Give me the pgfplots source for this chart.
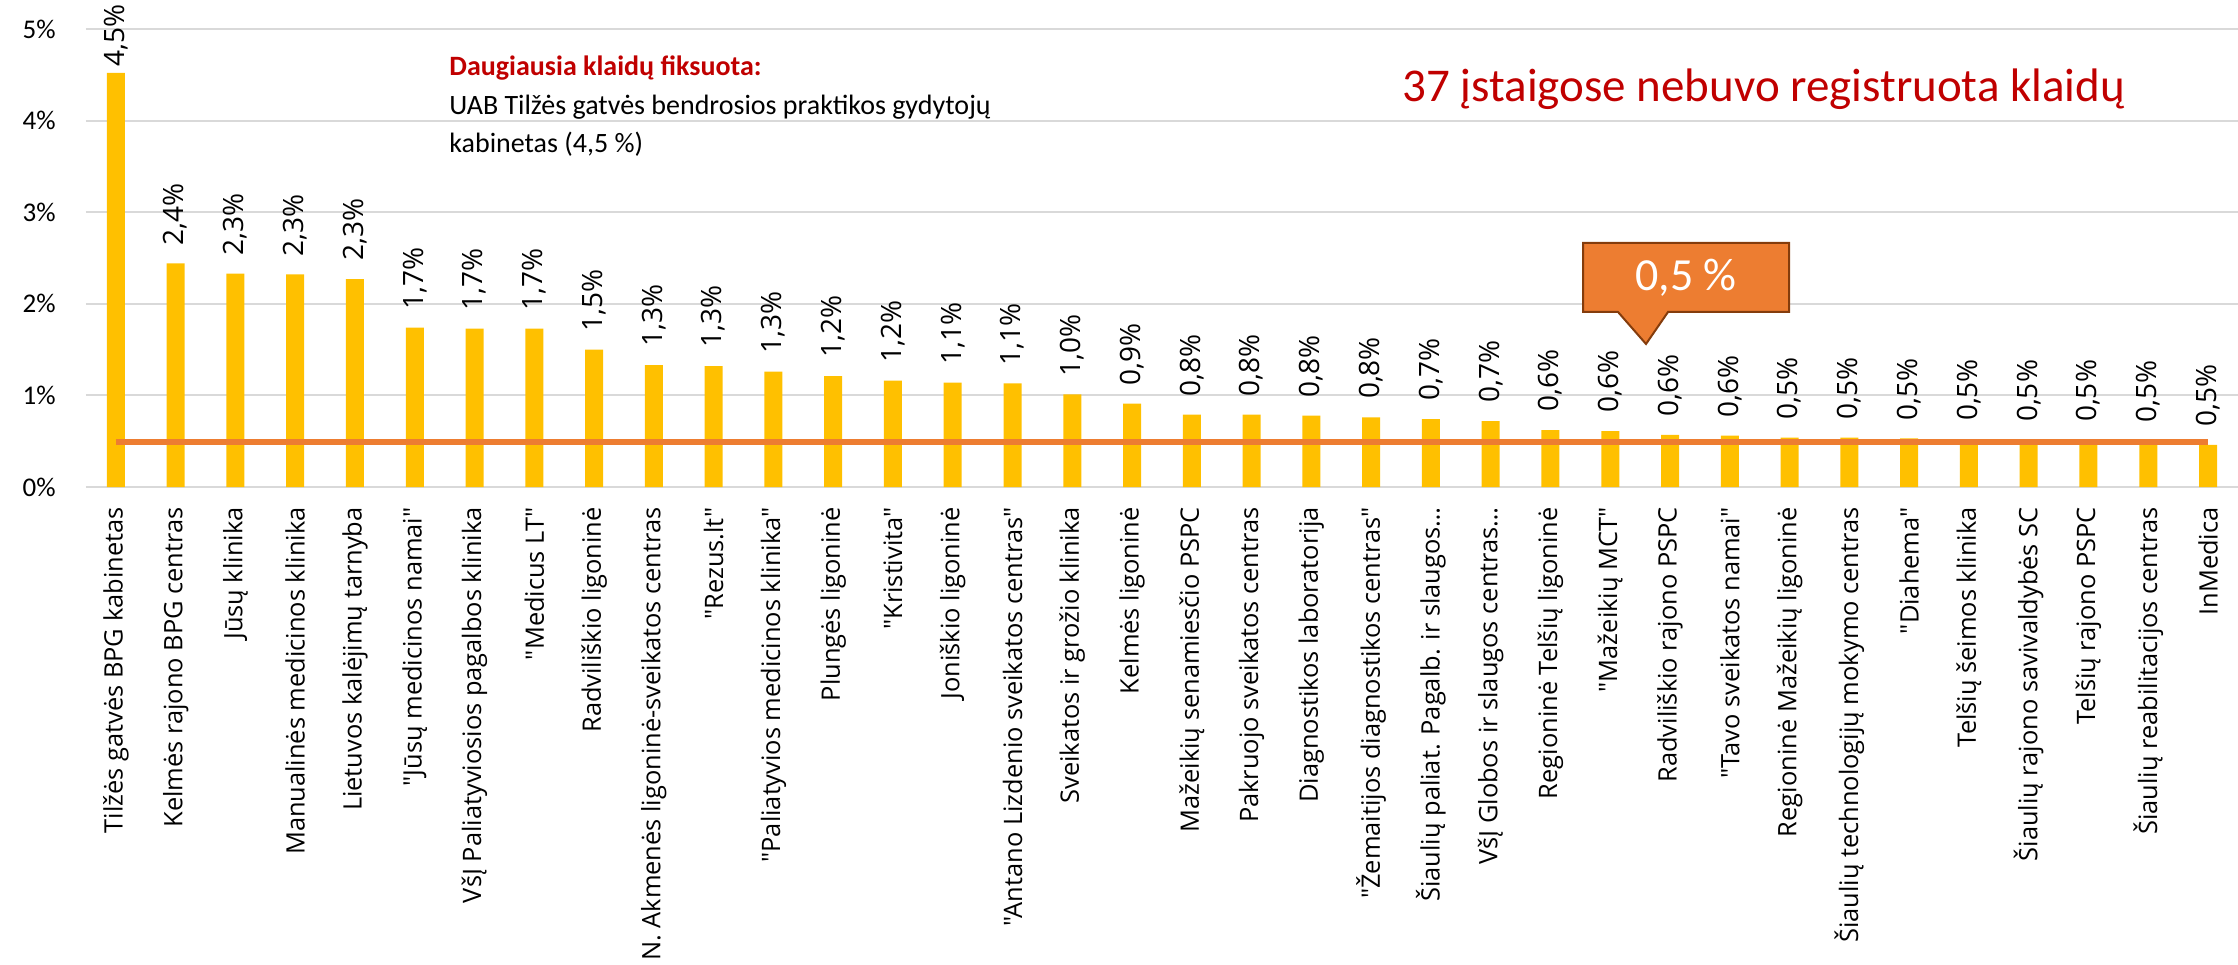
\documentclass[border=0pt]{standalone}
\usepackage{fontspec}
\setmainfont{Carlito}
\newfontfamily\osans{Open Sans}
\usepackage{pgfplots}
\pgfplotsset{compat=1.18}
\definecolor{barc}{HTML}{FFC000}
\definecolor{avgc}{HTML}{ED7D31}
\definecolor{gridc}{HTML}{D9D9D9}
\definecolor{redc}{HTML}{C00000}
\definecolor{brownc}{HTML}{843C0C}

\begin{document}
\begin{tikzpicture}
\path[use as bounding box] (0,0) rectangle (1119pt,482pt);
\begin{axis}[
  at={(43pt,238.5pt)}, anchor=south west,
  scale only axis, width=1076pt, height=229pt,
  xmin=0.5, xmax=36.5, ymin=0, ymax=5,
  clip=false,
  axis line style={draw=none},
  tick style={draw=none},
  ytick={0,1,2,3,4,5},
  yticklabels={0\%,1\%,2\%,3\%,4\%,5\%},
  yticklabel style={font=\fontsize{13.5}{16}\selectfont, inner sep=0pt, xshift=-15pt},
  ymajorgrids, grid style={gridc, line width=1pt},
  xtick={1,...,36},
  xticklabels={
    {Tilžės gatvės BPG kabinetas},
    {Kelmės rajono BPG centras},
    {Jūsų klinika},
    {Manualinės medicinos klinika},
    {Lietuvos kalėjimų tarnyba},
    {"Jūsų medicinos namai"},
    {VšĮ Paliatyviosios pagalbos klinika},
    {"Medicus LT"},
    {Radviliškio ligoninė},
    {N. Akmenės ligoninė-sveikatos centras},
    {"Rezus.lt"},
    {"Paliatyvios medicinos klinika"},
    {Plungės ligoninė},
    {"Kristivita"},
    {Joniškio ligoninė},
    {"Antano Lizdenio sveikatos centras"},
    {Sveikatos ir grožio klinika},
    {Kelmės ligoninė},
    {Mažeikių senamiesčio PSPC},
    {Pakruojo sveikatos centras},
    {Diagnostikos laboratorija},
    {"Žemaitijos diagnostikos centras"},
    {Šiaulių paliat. Pagalb. ir slaugos…},
    {VšĮ Globos ir slaugos centras…},
    {Regioninė Telšių ligoninė},
    {"Mažeikių MCT"},
    {Radviliškio rajono PSPC},
    {"Tavo sveikatos namai"},
    {Regioninė Mažeikių ligoninė},
    {Šiaulių technologijų mokymo centras},
    {"Diahema"},
    {Telšių šeimos klinika},
    {Šiaulių rajono savivaldybės SC},
    {Telšių rajono PSPC},
    {Šiaulių reabilitacijos centras},
    {InMedica}},
  xticklabel style={font=\osans\fontsize{12.7}{15}\selectfont, rotate=90, anchor=east, inner xsep=10pt, inner ysep=0pt},
]
% bars
\addplot[ybar, bar shift=0pt, bar width=9pt, fill=barc, draw=none] coordinates {
  (1,4.52)(2,2.44)(3,2.33)(4,2.32)(5,2.27)(6,1.74)(7,1.73)(8,1.73)(9,1.50)
  (10,1.33)(11,1.32)(12,1.26)(13,1.21)(14,1.16)(15,1.14)(16,1.13)(17,1.01)
  (18,0.91)(19,0.79)(20,0.79)(21,0.78)(22,0.76)(23,0.74)(24,0.72)(25,0.62)
  (26,0.61)(27,0.57)(28,0.56)(29,0.54)(30,0.54)(31,0.53)(32,0.52)(33,0.51)
  (34,0.51)(35,0.50)(36,0.46)
};
% average line
\addplot[avgc, line width=3pt] coordinates {
  (1,0.49)(2,0.49)(3,0.49)(4,0.49)(5,0.49)(6,0.49)(7,0.49)(8,0.49)(9,0.49)
  (10,0.49)(11,0.49)(12,0.49)(13,0.49)(14,0.49)(15,0.49)(16,0.49)(17,0.49)
  (18,0.49)(19,0.49)(20,0.49)(21,0.49)(22,0.49)(23,0.49)(24,0.49)(25,0.49)
  (26,0.49)(27,0.49)(28,0.49)(29,0.49)(30,0.49)(31,0.49)(32,0.49)(33,0.49)
  (34,0.49)(35,0.49)(36,0.49)
};
% value labels
\addplot[draw=none, point meta=y,
  nodes near coords={\pgfmathprintnumber[fixed,fixed zerofill,precision=1,use comma,assume math mode=true]{\pgfplotspointmeta}\%},
  every node near coord/.append style={font=\osans\fontsize{14}{16}\selectfont, rotate=90, anchor=west, inner xsep=9pt, inner ysep=0pt}]
  coordinates {
  (2,2.44)(3,2.33)(4,2.32)(5,2.27)(6,1.74)(7,1.73)(8,1.73)(9,1.50)
  (10,1.33)(11,1.32)(12,1.26)(13,1.21)(14,1.16)(15,1.14)(16,1.13)(17,1.01)
  (18,0.91)(19,0.79)(20,0.79)(21,0.78)(22,0.76)(23,0.74)(24,0.72)(25,0.62)
  (26,0.61)(27,0.57)(28,0.56)(29,0.54)(30,0.54)(31,0.53)(32,0.52)(33,0.51)
  (34,0.51)(35,0.50)(36,0.46)
};
\addplot[draw=none, point meta=y,
  nodes near coords={\pgfmathprintnumber[fixed,fixed zerofill,precision=1,use comma,assume math mode=true]{\pgfplotspointmeta}\%},
  every node near coord/.append style={font=\osans\fontsize{14}{16}\selectfont, rotate=90, anchor=west, inner xsep=3pt, inner ysep=0pt}]
  coordinates {(1,4.52)};
\end{axis}

% annotations, in pixel units of the reference (origin top left)
\begin{scope}[x=0.5pt, y=-0.5pt, yshift=482pt]
\node[anchor=base west, inner sep=0pt, text=redc, font=\bfseries\fontsize{14}{16}\selectfont] at (449,76) {Daugiausia klaidų fiksuota:};
\node[anchor=base west, inner sep=0pt, font=\fontsize{14}{16}\selectfont] at (449,115) {UAB Tilžės gatvės bendrosios praktikos gydytojų};
\node[anchor=base west, inner sep=0pt, font=\fontsize{14}{16}\selectfont] at (449,153) {kabinetas (4,5 \%)};
\node[anchor=base west, inner sep=0pt, text=redc, font=\fontsize{23.5}{28}\selectfont] at (1402,102) {37 įstaigose nebuvo registruota klaidų};
\filldraw[fill=avgc, draw=brownc, line width=1pt]
  (1583,243) -- (1789,243) -- (1789,312) -- (1668,312) -- (1646,344) -- (1618,312) -- (1583,312) -- cycle;
\node[text=white, font=\fontsize{23}{27}\selectfont] at (1686,278) {0,5 \%};
\end{scope}
\end{tikzpicture}
\end{document}
